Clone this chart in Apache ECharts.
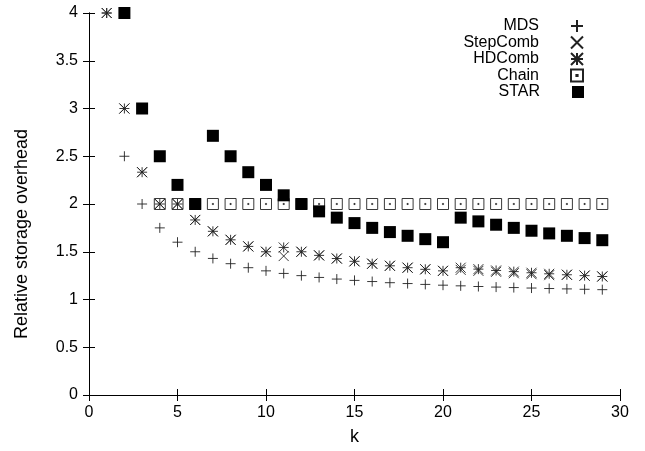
<!DOCTYPE html>
<html>
<head>
<meta charset="utf-8">
<script src="https://cdn.jsdelivr.net/npm/echarts@6/dist/echarts.min.js"></script>
<style>
html,body{margin:0;padding:0;background:#fff;}
#chart{width:645px;height:451px;}
</style>
</head>
<body>
<div id="chart"></div>
<script>
var kValues = [1,2,3,4,5,6,7,8,9,10,11,12,13,14,15,16,17,18,19,20,21,22,23,24,25,26,27,28,29];
var mdsValues = [4,2.5,2,1.75,1.6,1.5,1.43,1.375,1.333,1.3,1.273,1.25,1.231,1.214,1.2,1.188,1.176,1.167,1.158,1.15,1.143,1.136,1.13,1.125,1.12,1.115,1.111,1.107,1.103];
var stepCombValues = [4,3,2.333,2,2,1.833,1.714,1.625,1.556,1.5,1.455,1.5,1.462,1.429,1.4,1.375,1.353,1.333,1.316,1.3,1.31,1.3,1.29,1.275,1.265,1.255,1.259,1.25,1.241];
var hdCombValues = [4,3,2.333,2,2,1.833,1.714,1.625,1.556,1.5,1.545,1.5,1.462,1.429,1.4,1.375,1.353,1.333,1.316,1.3,1.333,1.318,1.304,1.292,1.28,1.269,1.259,1.25,1.241];
var chainValues = [null,null,null,2,2,2,2,2,2,2,2,2,2,2,2,2,2,2,2,2,2,2,2,2,2,2,2,2,2];
var starValues = [null,4,3,2.5,2.2,2,2.714,2.5,2.333,2.2,2.091,2,1.923,1.857,1.8,1.75,1.706,1.667,1.632,1.6,1.857,1.818,1.783,1.75,1.72,1.692,1.667,1.643,1.621];
var seriesNames = ['MDS','StepComb','HDComb','Chain','STAR'];
var xTicks = [0,5,10,15,20,25,30];
var yTicks = [0,0.5,1,1.5,2,2.5,3,3.5,4];

var FONT = 'Liberation Sans';
function pairs(vals){
  var out = [];
  for (var i=0;i<kValues.length;i++){ if (vals[i]!==null) out.push([kValues[i], vals[i]]); }
  return out;
}
var symbols = {
  MDS: 'path://M0,5H10M5,0V10',
  StepComb: 'path://M0,0L10,10M10,0L0,10',
  HDComb: 'path://M0,5H10M5,0V10M0,0L10,10M10,0L0,10',
  Chain: 'path://M0,0H10V10H0ZM4.5,4.5H5.5V5.5H4.5Z',
  STAR: 'rect'
};
var sizes = {MDS:10, StepComb:10, HDComb:10, Chain:11, STAR:12};
var dataMap = {MDS:mdsValues, StepComb:stepCombValues, HDComb:hdCombValues, Chain:chainValues, STAR:starValues};

var series = seriesNames.map(function(n){
  var filled = n === 'STAR';
  return {
    name: n,
    type: 'scatter',
    data: pairs(dataMap[n]),
    symbol: symbols[n],
    symbolSize: sizes[n],
    symbolKeepAspect: true,
    itemStyle: filled ? {color:'#000', opacity:1} : {color:'rgba(0,0,0,0)', borderColor:'#222', borderWidth:0.9, opacity:1},
    emphasis: {disabled: true},
    animation: false
  };
});

var legendCenters = [26, 42.5, 59, 75.5, 92];
var legends = seriesNames.map(function(n, i){
  return {
    data: [n],
    orient: 'vertical',
    align: 'right',
    right: 61,
    top: legendCenters[i] - 9,
    itemWidth: 12,
    itemHeight: 12,
    padding: 0,
    selectedMode: false,
    textStyle: {fontFamily: FONT, fontSize: 16, color: '#000', padding: [0, 27, 0, 0], lineHeight: 18}
  };
});

var axisCommon = {
  type: 'value',
  axisLine: {show: true, lineStyle: {color:'#000', width:1}},
  axisTick: {show: true, inside: true, length: 6, lineStyle: {color:'#000'}},
  splitLine: {show: false}
};

var option = {
  backgroundColor: '#fff',
  animation: false,
  grid: {left: 89, right: 25, top: 13, bottom: 52},
  legend: legends,
  xAxis: [
    Object.assign({}, axisCommon, {
      min: xTicks[0], max: xTicks[xTicks.length-1], interval: 5,
      name: 'k', nameLocation: 'middle', nameGap: 33,
      nameTextStyle: {fontFamily: FONT, fontSize: 18, color:'#000'},
      axisLabel: {fontFamily: FONT, fontSize: 16, color:'#000', margin: 10}
    }),
    Object.assign({}, axisCommon, {
      position: 'top', min: xTicks[0], max: xTicks[xTicks.length-1], interval: 5,
      axisLabel: {show: false}
    })
  ],
  yAxis: [
    Object.assign({}, axisCommon, {
      min: yTicks[0], max: yTicks[yTicks.length-1], interval: 0.5,
      name: 'Relative storage overhead', nameLocation: 'middle', nameGap: 58,
      nameTextStyle: {fontFamily: FONT, fontSize: 18, color:'#000', padding: [0, 60, 0, 0]},
      axisLabel: {fontFamily: FONT, fontSize: 16, color:'#000', margin: 11}
    }),
    Object.assign({}, axisCommon, {
      position: 'right', min: yTicks[0], max: yTicks[yTicks.length-1], interval: 0.5,
      axisLabel: {show: false}
    })
  ],
  series: series
};
var chart = echarts.init(document.getElementById('chart'), null, {renderer: 'canvas'});
chart.setOption(option);
</script>
</body>
</html>
